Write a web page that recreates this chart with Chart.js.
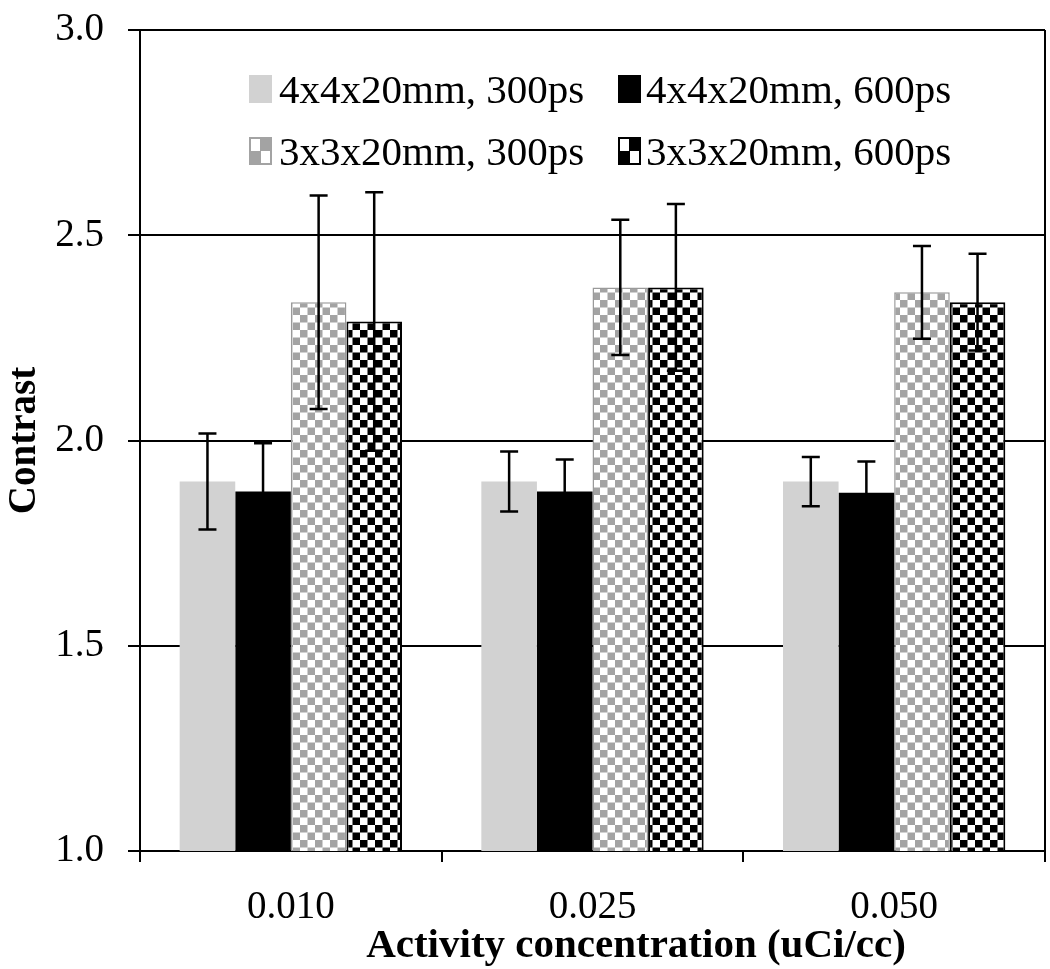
<!DOCTYPE html>
<html>
<head>
<meta charset="utf-8">
<script src="https://cdn.jsdelivr.net/npm/chart.js@4/dist/chart.umd.min.js"></script>
<style>
  html, body { margin: 0; padding: 0; background: #fff; }
  #wrap { position: relative; width: 1050px; height: 969px; }
  #legend { position: absolute; left: 0; top: 0; }
  .item { position: absolute; }
  .sw { position: absolute; left: 0; top: 6px; width: 23px; height: 28px; box-sizing: border-box; }
  .txt { position: absolute; top: 0; font: 41px "Liberation Serif", serif; line-height: 40px; color: #000; white-space: nowrap; }
</style>
</head>
<body>
<div id="wrap">
  <canvas id="chart" width="1050" height="969"></canvas>
  <div id="legend"></div>
</div>
<script>
// ============================================================
// Data
// ============================================================
const categories = ["0.010", "0.025", "0.050"];
const seriesNames = ["4x4x20mm, 300ps", "4x4x20mm, 600ps", "3x3x20mm, 300ps", "3x3x20mm, 600ps"];

const s4mm300 = [1.900, 1.900, 1.900];
const s4mm600 = [1.876, 1.876, 1.873];
const s3mm300 = [2.337, 2.373, 2.361];
const s3mm600 = [2.290, 2.373, 2.337];

const e4mm300 = [0.117, 0.073, 0.060];
const e4mm600 = [0.117, 0.078, 0.076];
const e3mm300 = [0.260, 0.165, 0.113];
const e3mm600 = [0.315, 0.203, 0.118];

const yTicks = [1.0, 1.5, 2.0, 2.5, 3.0];

// ============================================================
// Helpers
// ============================================================
const $ = (id) => document.getElementById(id);
const FONT = "'Liberation Serif', 'Times New Roman', serif";

const checker = (dark, cell) => {
  const c = document.createElement("canvas");
  c.width = cell * 2; c.height = cell * 2;
  const g = c.getContext("2d");
  g.fillStyle = "#fff"; g.fillRect(0, 0, c.width, c.height);
  g.fillStyle = dark;
  g.fillRect(0, 0, cell, cell);
  g.fillRect(cell, cell, cell, cell);
  return g.createPattern(c, "repeat");
};

const grayChecker = checker("#a3a3a3", 7.5);
const blackChecker = checker("#000", 7.5);

const errors = [e4mm300, e4mm600, e3mm300, e3mm600];

// ============================================================
// Plugins
// ============================================================
const errorBars = {
  id: "errorBars",
  afterDatasetsDraw(chart) {
    const { ctx, scales: { y } } = chart;
    ctx.save();
    ctx.strokeStyle = "#000";
    ctx.lineWidth = 2.5;
    chart.data.datasets.forEach((ds, i) => {
      const meta = chart.getDatasetMeta(i);
      meta.data.forEach((bar, j) => {
        const v = ds.data[j], e = errors[i][j];
        const top = y.getPixelForValue(v + e);
        const bot = y.getPixelForValue(v - e);
        ctx.beginPath();
        ctx.moveTo(bar.x, top); ctx.lineTo(bar.x, bot);
        ctx.moveTo(bar.x - 9, top); ctx.lineTo(bar.x + 9, top);
        ctx.moveTo(bar.x - 9, bot); ctx.lineTo(bar.x + 9, bot);
        ctx.stroke();
      });
    });
    ctx.restore();
  }
};

const frame = {
  id: "frame",
  afterDraw(chart) {
    const { ctx, chartArea: a } = chart;
    ctx.save();
    ctx.strokeStyle = "#000";
    ctx.lineWidth = 2;
    ctx.beginPath();
    ctx.moveTo(a.right, a.top); ctx.lineTo(a.right, a.bottom);
    ctx.stroke();
    // x axis title, set slightly right of centre as in the source
    ctx.fillStyle = "#000";
    ctx.font = `bold 41px ${FONT}`;
    ctx.textAlign = "center";
    ctx.textBaseline = "alphabetic";
    ctx.fillText("Activity concentration (uCi/cc)", 636, 957);
    ctx.restore();
  }
};

// ============================================================
// Chart
// ============================================================
new Chart($("chart"), {
  type: "bar",
  data: {
    labels: categories,
    datasets: [
      { label: seriesNames[0], data: s4mm300, backgroundColor: "#d2d2d2", borderWidth: 0 },
      { label: seriesNames[1], data: s4mm600, backgroundColor: "#000", borderWidth: 0 },
      { label: seriesNames[2], data: s3mm300, backgroundColor: grayChecker, borderColor: "#9a9a9a", borderWidth: 1.5 },
      { label: seriesNames[3], data: s3mm600, backgroundColor: blackChecker, borderColor: "#000", borderWidth: 2 },
    ]
  },
  options: {
    responsive: false,
    animation: false,
    categoryPercentage: 0.737,
    barPercentage: 1,
    layout: { padding: { top: 30, right: 5, left: 0, bottom: 0 } },
    plugins: { legend: { display: false }, tooltip: { enabled: false } },
    scales: {
      x: {
        grid: { drawOnChartArea: false, color: "#000", lineWidth: 2, tickLength: 11 },
        border: { color: "#000", width: 2 },
        ticks: { color: "#000", font: { family: FONT, size: 39 }, padding: 22 },
        afterFit: (s) => { s.height = 118; }
      },
      y: {
        min: 1, max: 3,
        afterBuildTicks: (s) => { s.ticks = yTicks.map(v => ({ value: v })); },
        grid: { color: "#000", lineWidth: 2, tickLength: 12 },
        border: { color: "#000", width: 2 },
        ticks: { color: "#000", font: { family: FONT, size: 39 }, padding: 24, callback: (v) => Number(v).toFixed(1) },
        title: { display: true, text: "Contrast", color: "#000", font: { family: FONT, size: 39, weight: "bold" }, padding: 2 },
        afterFit: (s) => { s.width = 140; s.paddingTop = 0; s.paddingBottom = 0; }
      }
    }
  },
  plugins: [errorBars, frame]
});

// ============================================================
// Legend (inside the plot, 2 x 2)
// ============================================================
const swatches = [
  "background:#d2d2d2;",
  "background:#000;",
  "border:2px solid #a3a3a3;background:conic-gradient(#a3a3a3 25%,#fff 0 50%,#a3a3a3 0 75%,#fff 0);",
  "border:2px solid #000;background:conic-gradient(#000 25%,#fff 0 50%,#000 0 75%,#fff 0);"
];
// [box left, text left, top]
const legendPos = [[249, 279, 69], [618, 646, 69], [249, 279, 131], [618, 646, 131]];

seriesNames.forEach((name, i) => {
  const [bx, tx, top] = legendPos[i];
  const d = document.createElement("div");
  d.className = "item";
  d.style.left = bx + "px";
  d.style.top = top + "px";
  d.innerHTML = `<div class="sw" style="${swatches[i]}"></div><span class="txt" style="left:${tx - bx}px">${name}</span>`;
  $("legend").appendChild(d);
});
</script>
</body>
</html>
